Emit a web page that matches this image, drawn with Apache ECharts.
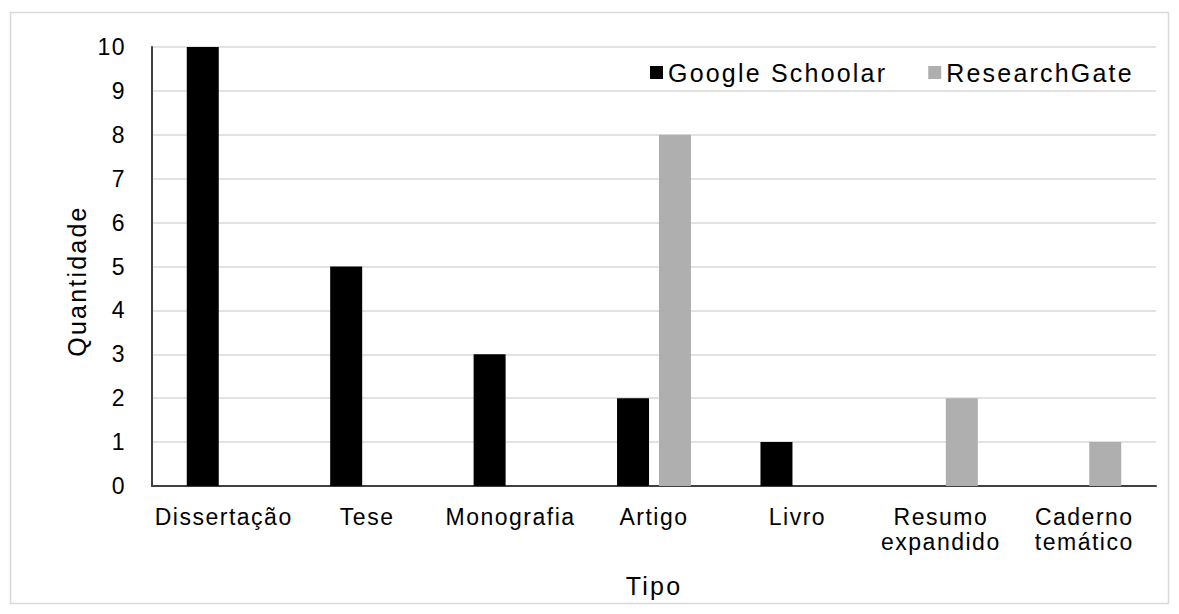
<!DOCTYPE html>
<html>
<head>
<meta charset="utf-8">
<title>Quantidade por tipo</title>
<script src="https://cdn.jsdelivr.net/npm/echarts@6/dist/echarts.min.js"></script>
<style>
  html, body { margin: 0; padding: 0; background: #ffffff; }
  #chart { width: 1179px; height: 614px; }
  #chart text { letter-spacing: 1.5px; }
  #chart text[style*="25px"] { letter-spacing: 2.2px; }
</style>
</head>
<body>
<div id="chart"></div>
<script>
// Publication types found in each source
const categories = ['Dissertação', 'Tese', 'Monografia', 'Artigo', 'Livro', 'Resumo\nexpandido', 'Caderno\ntemático'];
const seriesNames = ['Google Schoolar', 'ResearchGate'];
const googleScholar = [10, 5, 3, 2, 1, 0, 0];
const researchGate = [0, 0, 0, 8, 0, 2, 1];
const yTicks = { min: 0, max: 10, interval: 1 };

const FONT = '"Liberation Sans", Arial, sans-serif';
const chart = echarts.init(document.getElementById('chart'), null, { renderer: 'svg' });

chart.setOption({
  backgroundColor: '#ffffff',
  animation: false,
  textStyle: { fontFamily: FONT, color: '#000000' },
  graphic: [
    {
      type: 'rect',
      shape: { x: 10.5, y: 12.5, width: 1158, height: 591 },
      style: { fill: 'none', stroke: '#d9d9d9', lineWidth: 1.5 },
      silent: true
    },
    {
      type: 'text',
      x: 77,
      y: 281,
      rotation: Math.PI / 2,
      style: {
        text: 'Quantidade',
        font: '25px ' + FONT,
        fill: '#000000',
        align: 'center',
        verticalAlign: 'middle'
      }
    }
  ],
  legend: {
    data: seriesNames,
    left: 645,
    top: 55,
    itemWidth: 13,
    itemHeight: 13,
    itemGap: 74,
    icon: 'rect',
    textStyle: { fontFamily: FONT, fontSize: 25, color: '#000000' }
  },
  grid: { left: 152, right: 23, top: 47, bottom: 128, containLabel: false },
  xAxis: {
    type: 'category',
    data: categories,
    name: 'Tipo',
    nameLocation: 'middle',
    nameGap: 87,
    nameTextStyle: { fontFamily: FONT, fontSize: 25, color: '#000000' },
    axisLine: { show: true, lineStyle: { color: '#404040', width: 2 } },
    axisTick: { show: false },
    axisLabel: {
      interval: 0,
      margin: 18,
      fontFamily: FONT,
      fontSize: 23,
      lineHeight: 25,
      color: '#000000'
    }
  },
  yAxis: {
    type: 'value',
    min: yTicks.min,
    max: yTicks.max,
    interval: yTicks.interval,
    axisLine: { show: true, lineStyle: { color: '#404040', width: 2 } },
    axisTick: { show: false },
    axisLabel: { margin: 26, fontFamily: FONT, fontSize: 23, color: '#000000' },
    splitLine: { show: true, lineStyle: { color: '#d9d9d9', width: 1.5 } }
  },
  series: [
    {
      name: seriesNames[0],
      type: 'bar',
      data: googleScholar,
      barWidth: 32,
      barGap: '31%',
      itemStyle: { color: '#000000' }
    },
    {
      name: seriesNames[1],
      type: 'bar',
      data: researchGate,
      barWidth: 32,
      barGap: '31%',
      itemStyle: { color: '#afafaf' }
    }
  ]
});
</script>
</body>
</html>
